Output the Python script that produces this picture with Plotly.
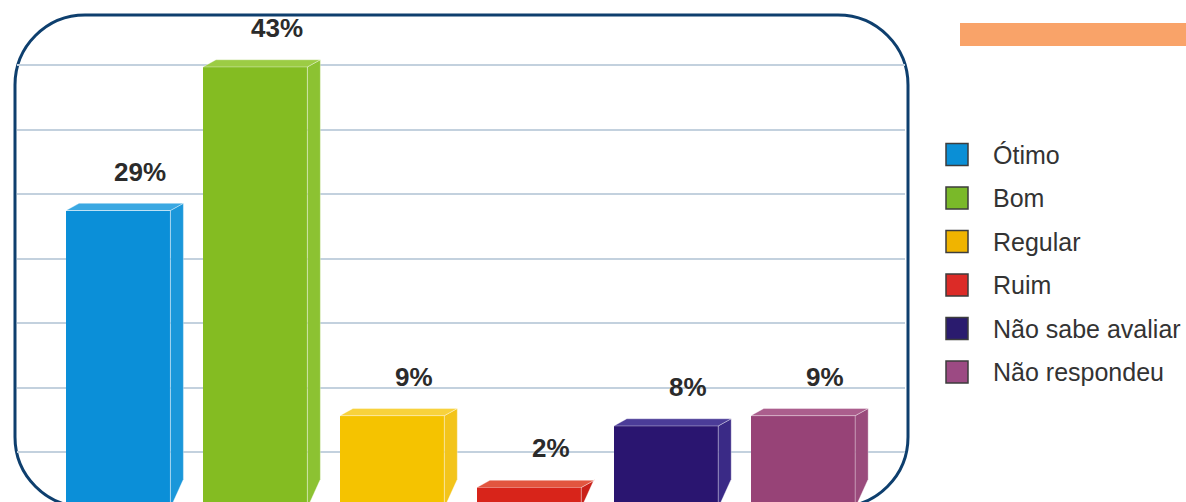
import plotly.graph_objects as go

# ---------------- data ----------------
categories = ["Ótimo", "Bom", "Regular", "Ruim", "Não sabe avaliar", "Não respondeu"]
values = [29, 43, 9, 2, 8, 9]
labels = ["29%", "43%", "9%", "2%", "8%", "9%"]

front_colors = ["#0b8fd8", "#84bc22", "#f5c300", "#d8241a", "#2a1570", "#974377"]
side_colors = ["#1a97da", "#8cc232", "#f3c41a", "#c92019", "#3a2a86", "#9a4b7c"]
top_colors = ["#3aa8e2", "#9ccc44", "#f8d23c", "#e2553f", "#4b3c98", "#ab5e8d"]
legend_colors = ["#0a8fd6", "#7ab929", "#f0b400", "#dc2b27", "#2a1b6e", "#9c4a83"]

# ---------------- geometry constants ----------------
W, H = 1186, 502
ML, MR, MT, MB = 17, 281, 14, 0
PW, PH = W - ML - MR, H - MT - MB

bar_w = 0.762      # front face width (x units)
dx = 0.095         # depth offset in x units
dy = 0.7           # depth offset in y units

def px(x):  # pixel x -> paper x
    return (x - ML) / PW

def py(y):  # pixel y -> paper y
    return (H - MB - y) / PH

fig = go.Figure()

xs = list(range(len(categories)))

# front faces
fig.add_trace(go.Bar(
    x=xs, y=values, width=bar_w,
    marker=dict(color=front_colors, line=dict(width=0)),
    showlegend=False, hoverinfo="skip",
))

# side and top faces (3D effect), computed from the values
for i, v in enumerate(values):
    xl = i - bar_w / 2
    xr = i + bar_w / 2
    fig.add_trace(go.Scatter(
        x=[xr, xr, xr + dx, xr + dx, xr],
        y=[0, v, v + dy, 2.8, 0],
        fill="toself", mode="lines",
        fillcolor=side_colors[i],
        line=dict(color="rgba(255,255,255,0.35)", width=1),
        showlegend=False, hoverinfo="skip",
    ))
    fig.add_trace(go.Scatter(
        x=[xl, xr, xr + dx, xl + dx, xl],
        y=[v, v, v + dy, v + dy, v],
        fill="toself", mode="lines",
        fillcolor=top_colors[i],
        line=dict(color="rgba(255,255,255,0.35)", width=1),
        showlegend=False, hoverinfo="skip",
    ))

# value labels
for i, v in enumerate(values):
    fig.add_annotation(
        x=i, y=v, text=f"<b>{labels[i]}</b>", showarrow=False,
        xshift=22, yshift=22, yanchor="bottom", xanchor="center",
        font=dict(family="Liberation Sans, Arial, sans-serif", size=26, color="#2b2b2b"),
    )

shapes = []

# rounded border (bottom edge lies just below the visible area)
L, R, T, B = px(15), px(908), py(15), py(507)
rx, ry = 70 / PW, 70 / PH
k = 1 - 0.5523
path = (
    f"M {L+rx},{T} L {R-rx},{T} "
    f"C {R-rx*k},{T} {R},{T-ry*k} {R},{T-ry} "
    f"L {R},{B+ry} "
    f"C {R},{B+ry*k} {R-rx*k},{B} {R-rx},{B} "
    f"L {L+rx},{B} "
    f"C {L+rx*k},{B} {L},{B+ry*k} {L},{B+ry} "
    f"L {L},{T-ry} "
    f"C {L},{T-ry*k} {L+rx*k},{T} {L+rx},{T} Z"
)
shapes.append(dict(type="path", path=path, xref="paper", yref="paper",
                   line=dict(color="#0e3f6e", width=3), layer="below"))

# orange bar top right
shapes.append(dict(type="rect", xref="paper", yref="paper",
                   x0=px(960), x1=px(1186), y0=py(46), y1=py(23),
                   fillcolor="#f9a369", line=dict(width=0)))

# custom legend
row0, row_step = 154.5, 43.5
for i, name in enumerate(categories):
    cy = row0 + i * row_step
    shapes.append(dict(type="rect", xref="paper", yref="paper",
                       x0=px(946), x1=px(968), y0=py(cy + 11), y1=py(cy - 11),
                       fillcolor=legend_colors[i], line=dict(color="#3d3d3d", width=1.5)))
    fig.add_annotation(
        x=px(991), y=py(cy), xref="paper", yref="paper", text=name,
        showarrow=False, xanchor="left", yanchor="middle",
        font=dict(family="Liberation Sans, Arial, sans-serif", size=25, color="#333333"),
    )

fig.update_layout(
    width=W, height=H, autosize=False,
    margin=dict(l=ML, r=MR, t=MT, b=MB, pad=0),
    paper_bgcolor="white", plot_bgcolor="white",
    shapes=shapes, showlegend=False, bargap=0,
    xaxis=dict(range=[-0.739, 5.745], showgrid=False, zeroline=False,
               showticklabels=False, ticks="", fixedrange=True),
    yaxis=dict(range=[0.585, 48.16], tick0=5.46, dtick=6.288, showgrid=True,
               gridcolor="#c3d1de", gridwidth=2, zeroline=False,
               showticklabels=False, ticks="", fixedrange=True),
)

fig.write_html(
    "out.html",
    config={"displayModeBar": False},
    post_script="document.body.style.margin='0';document.body.style.overflow='hidden';",
)
